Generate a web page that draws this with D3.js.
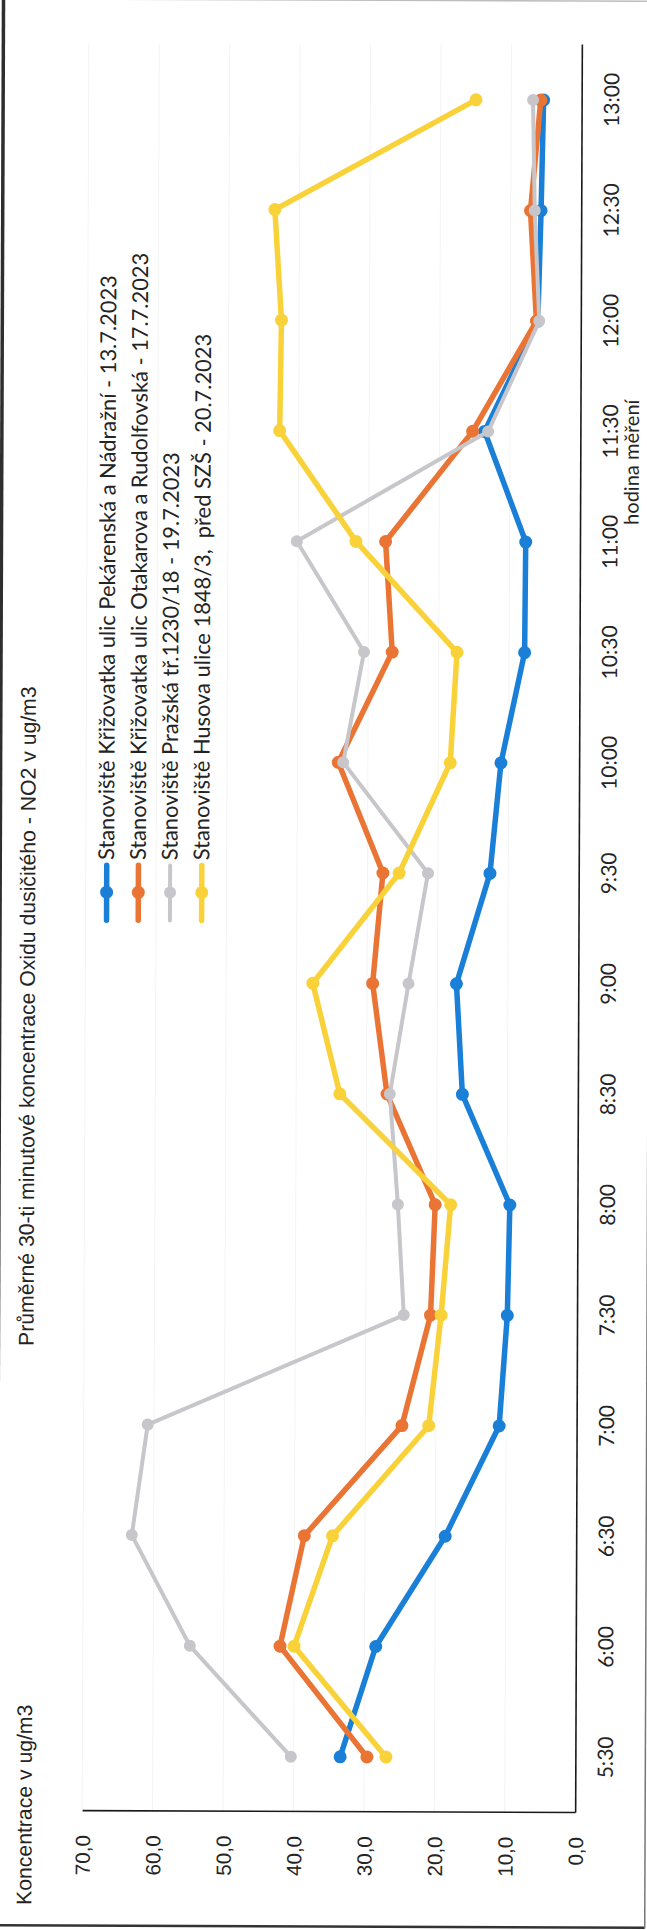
<!DOCTYPE html>
<html>
<head>
<meta charset="utf-8">
<script src="https://cdn.jsdelivr.net/npm/d3@7"></script>
<style>
  html, body { margin: 0; padding: 0; background: #fff; }
  svg { display: block; }
</style>
</head>
<body>
<svg id="chart" width="647" height="1930"></svg>
<script>
// Half-hour measurement slots
const cats = ["5:30","6:00","6:30","7:00","7:30","8:00","8:30","9:00","9:30","10:00","10:30","11:00","11:30","12:00","12:30","13:00"];

// NO2 30-minute averages (ug/m3) per station
const pekarenska = [33.4, 28.4, 18.6, 11.0, 9.9, 9.6, 16.4, 17.3, 12.6, 11.1, 7.8, 7.7, 13.6, 6.1, 5.7, 5.4];
const otakarova  = [29.6, 42.0, 38.6, 24.8, 20.8, 20.2, 27.1, 29.2, 27.8, 34.2, 26.6, 27.6, 15.3, 6.3, 7.2, 5.8];
const prazska    = [40.4, 54.8, 63.1, 60.9, 24.6, 25.5, 26.7, 24.1, 21.4, 33.5, 30.6, 40.2, 13.1, 5.9, 6.6, 6.9];
const husova     = [26.9, 40.0, 34.6, 21.0, 19.3, 18.0, 33.8, 37.7, 25.5, 18.3, 17.4, 31.8, 42.7, 42.5, 43.5, 15.0];

const seriesNames = [
  "Stanoviště Křižovatka ulic Pekárenská a Nádražní - 13.7.2023",
  "Stanoviště Křižovatka ulic Otakarova a Rudolfovská - 17.7.2023",
  "Stanoviště Pražská tř.1230/18 - 19.7.2023",
  "Stanoviště Husova ulice 1848/3,  před SZŠ - 20.7.2023"
];
const seriesColors = ["#1a7fd6", "#ea7434", "#c6c6cb", "#f9d23a"];
const valueTicks = [0, 10, 20, 30, 40, 50, 60, 70];

const titleText = "Průměrné 30-ti minutové koncentrace Oxidu dusičitého - NO2 v ug/m3";
const valueAxisTitle = "Koncentrace v ug/m3";
const catAxisTitle = "hodina měření";

const series = [pekarenska, otakarova, prazska, husova].map((values, i) => ({
  name: seriesNames[i], color: seriesColors[i], values,
  width: i === 2 ? 4 : 5.5, r: i === 2 ? 6 : 6.5
}));

const ARIAL = "'Liberation Sans', Arial, sans-serif";
const CALIBRI = "Lato, 'Noto Sans', sans-serif";
const INK = "#242424";

// size a text element so that its rendered length fills a given slot
function fitSize(sel, target) {
  sel.style("font-size", "20px");
  const w = sel.node().getComputedTextLength();
  return 20 * target / w;
}

const svg = d3.select("#chart");
// the sheet sits very slightly turned on the page
const sheet = svg.append("g").attr("transform", "rotate(0.217,578,929)");

// page frame
sheet.append("line").attr("x1", 0).attr("x2", 648.5).attr("y1", 1).attr("y2", 1)
  .attr("stroke", "#bdbdbd").attr("stroke-width", 1.5);
sheet.append("line").attr("x1", 0).attr("x2", 0).attr("y1", 0).attr("y2", 1928)
  .attr("stroke", "#2e2e2e").attr("stroke-width", 3.5);
sheet.append("line").attr("x1", 0).attr("x2", 648.5).attr("y1", 1927.5).attr("y2", 1927.5)
  .attr("stroke", "#333").attr("stroke-width", 2.5);
sheet.append("line").attr("x1", 648.5).attr("x2", 648.5).attr("y1", 0).attr("y2", 1928)
  .attr("stroke", "#777").attr("stroke-width", 1.5);

// landscape chart, turned a quarter to read bottom-to-top
const g = sheet.append("g").attr("transform", "translate(0,1930) rotate(-90)");

const x = d3.scalePoint().domain(cats).range([117, 1885]).padding(0.5);
const y = d3.scaleLinear().domain([0, 70]).range([578.5, 85.5]);
const fmt = d => d.toFixed(1).replace(".", ",");

// faint gridlines
g.append("g").selectAll("line")
  .data(valueTicks.filter(v => v > 0))
  .join("line")
  .attr("x1", 117).attr("x2", 1885)
  .attr("y1", d => y(d)).attr("y2", d => y(d))
  .attr("stroke", "#f4f4f4").attr("stroke-width", 1);

// value axis
const yAxis = g.append("g").attr("transform", "translate(117,0)")
  .call(d3.axisLeft(y).tickValues(valueTicks).tickFormat(fmt).tickSize(0).tickSizeOuter(0).tickPadding(24));
yAxis.select(".domain").attr("stroke", "#1a1a1a").attr("stroke-width", 1.6);
yAxis.selectAll("text").attr("fill", INK).style("font-family", ARIAL)
  .attr("dy", "0.36em");
{
  const probe = yAxis.selectAll("text").filter(d => d === 10);
  const fs = fitSize(probe, 40);
  yAxis.selectAll("text").style("font-size", fs + "px");
}

// category axis
const xAxis = g.append("g").attr("transform", `translate(0,${y(0)})`)
  .call(d3.axisBottom(x).tickSize(0).tickSizeOuter(0));
xAxis.select(".domain").attr("stroke", "#1a1a1a").attr("stroke-width", 1.6);
xAxis.selectAll("text").attr("fill", INK).style("font-family", CALIBRI)
  .attr("y", 616 - y(0)).attr("dy", 0);
let catFont;
{
  const probe = xAxis.selectAll("text").filter(d => d === "5:30");
  catFont = fitSize(probe, 42);
  xAxis.selectAll("text").style("font-size", catFont + "px");
}

// series lines and markers
const line = d3.line().x((d, i) => x(cats[i])).y(d => y(d));
const sg = g.append("g").selectAll("g").data(series).join("g");
sg.append("path")
  .attr("d", d => line(d.values))
  .attr("fill", "none")
  .attr("stroke", d => d.color)
  .attr("stroke-width", d => d.width)
  .attr("stroke-linejoin", "round")
  .attr("stroke-linecap", "round");
sg.selectAll("circle")
  .data(d => d.values.map((v, i) => ({ v, i, color: d.color, r: d.r })))
  .join("circle")
  .attr("cx", d => x(cats[d.i]))
  .attr("cy", d => y(d.v))
  .attr("r", d => d.r)
  .attr("fill", d => d.color);

// titles
g.append("text").attr("x", 582).attr("y", 35)
  .attr("fill", INK).style("font-family", ARIAL).style("font-size", "21.2px")
  .text(titleText);
g.append("text").attr("x", 23).attr("y", 35)
  .attr("fill", INK).style("font-family", ARIAL).style("font-size", "21.2px")
  .text(valueAxisTitle);
g.append("text").attr("x", 1468).attr("y", 637)
  .attr("text-anchor", "middle")
  .attr("fill", INK).style("font-family", CALIBRI).style("font-size", (catFont * 0.95) + "px")
  .text(catAxisTitle);

// legend
const legendRows = [106.5, 138.2, 169.9, 201.6];
const lg = g.append("g").selectAll("g").data(series).join("g")
  .attr("transform", (d, i) => `translate(0,${legendRows[i]})`);
lg.append("line").attr("x1", 1008).attr("x2", 1063).attr("y1", 0).attr("y2", 0)
  .attr("stroke", d => d.color).attr("stroke-width", d => d.width)
  .attr("stroke-linecap", "round");
lg.append("circle").attr("cx", 1036).attr("cy", 0).attr("r", d => d.r)
  .attr("fill", d => d.color);
const lt = lg.append("text").attr("x", 1068.3).attr("y", 7.3)
  .attr("fill", INK).style("font-family", CALIBRI)
  .style("white-space", "pre")
  .text(d => d.name);
{
  const fs = fitSize(lt.filter((d, i) => i === 0), 585);
  lt.style("font-size", fs + "px");
}
</script>
</body>
</html>
